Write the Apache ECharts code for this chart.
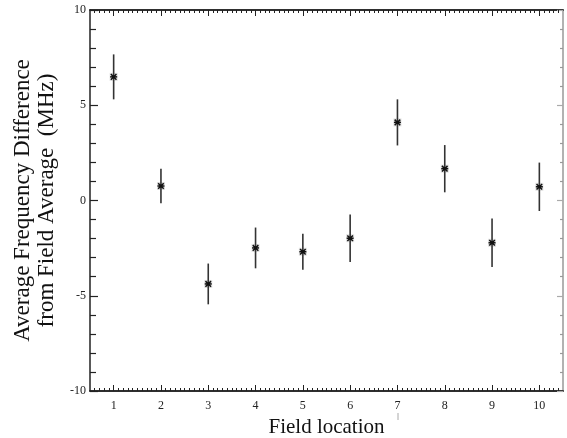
<!DOCTYPE html>
<html>
<head>
<meta charset="utf-8">
<script src="https://cdn.jsdelivr.net/npm/echarts@6/dist/echarts.min.js"></script>
<style>html,body{margin:0;padding:0;background:#fff;}#c{width:567px;height:438px;}</style>
</head>
<body>
<div id="c"></div>
<script>
var locations = [1, 2, 3, 4, 5, 6, 7, 8, 9, 10];
var meanDiff = [6.49, 0.76, -4.38, -2.49, -2.69, -1.98, 4.1, 1.67, -2.22, 0.72];
var errBar = [1.18, 0.91, 1.07, 1.07, 0.94, 1.25, 1.21, 1.24, 1.27, 1.27];
var xMajorTicks = [1, 2, 3, 4, 5, 6, 7, 8, 9, 10];

var xMinorTicks = [];
for (var i = 6; i <= 104; i++) { if (i % 10 !== 0) xMinorTicks.push(i / 10); }

var serif = 'Liberation Serif';
var data = locations.map(function (x, i) { return [x, meanDiff[i], errBar[i]]; });

var chart = echarts.init(document.getElementById('c'), null, {renderer: 'canvas'});

function xAxisDef(pos, ticks, len, showLabel, name) {
  return {
    type: 'value', min: 0.5, max: 10.5, position: pos,
    axisLine: {show: true, onZero: false, lineStyle: {color: '#222', width: 1.5}},
    axisTick: {show: true, inside: true, length: len, customValues: ticks, lineStyle: {color: '#222', width: 1}},
    axisLabel: {show: showLabel, customValues: ticks, color: '#222', fontFamily: serif, fontSize: 12, margin: 9},
    splitLine: {show: false},
    name: name || '', nameLocation: 'middle', nameGap: 23,
    nameTextStyle: {fontFamily: serif, fontSize: 21, color: '#111'}
  };
}

var option = {
  backgroundColor: '#fff',
  animation: false,
  grid: {left: 90, right: 4, top: 10, bottom: 47, containLabel: false, outerBoundsMode: 'none'},
  xAxis: [
    xAxisDef('bottom', xMajorTicks, 6, true, 'Field location'),
    xAxisDef('bottom', xMinorTicks, 3, false),
    xAxisDef('top', xMajorTicks, 6, false),
    xAxisDef('top', xMinorTicks, 3, false)
  ],
  yAxis: [
    {
      type: 'value', min: -10, max: 10, interval: 5, position: 'left',
      axisLine: {show: true, onZero: false, lineStyle: {color: '#222', width: 1.5}},
      axisTick: {show: true, inside: true, length: 8, lineStyle: {color: '#222', width: 1.2}},
      minorTick: {show: true, splitNumber: 5, length: 6, lineStyle: {color: '#222', width: 1.2}},
      axisLabel: {color: '#222', fontFamily: serif, fontSize: 12, margin: 4},
      splitLine: {show: false},
      name: 'Average Frequency Difference\nfrom Field Average  (MHz)',
      nameLocation: 'middle', nameGap: 31, nameRotate: 90,
      nameTextStyle: {fontFamily: serif, fontSize: 23, color: '#111', lineHeight: 24}
    },
    {
      type: 'value', min: -10, max: 10, interval: 5, position: 'right',
      axisLine: {show: true, onZero: false, lineStyle: {color: '#999', width: 1.5}},
      axisTick: {show: true, inside: true, length: 6, lineStyle: {color: '#aaa', width: 1.2}},
      minorTick: {show: true, splitNumber: 5, length: 3, lineStyle: {color: '#999', width: 1.2}},
      axisLabel: {show: false},
      splitLine: {show: false}
    }
  ],
  graphic: [{
    type: 'line', shape: {x1: 398, y1: 413, x2: 398, y2: 420},
    style: {stroke: '#aaa', lineWidth: 1}
  }],
  series: [{
    type: 'custom',
    xAxisIndex: 0, yAxisIndex: 0,
    data: data,
    renderItem: function (params, api) {
      var x = api.value(0), y = api.value(1), e = api.value(2);
      var c = api.coord([x, y]);
      var hi = api.coord([x, y + e]);
      var lo = api.coord([x, y - e]);
      var s = 3.5, d = 2.8;
      var st = {stroke: '#111', lineWidth: 1.5};
      return {
        type: 'group',
        children: [
          {type: 'rect', shape: {x: c[0] - 4, y: c[1] - 4, width: 8, height: 8}, style: {fill: 'rgba(0,0,0,0.12)'}},
          {type: 'line', shape: {x1: hi[0], y1: hi[1], x2: lo[0], y2: lo[1]}, style: {stroke: '#333', lineWidth: 1.6}},
          {type: 'line', shape: {x1: c[0] - s, y1: c[1], x2: c[0] + s, y2: c[1]}, style: st},
          {type: 'line', shape: {x1: c[0] - d, y1: c[1] - d, x2: c[0] + d, y2: c[1] + d}, style: st},
          {type: 'line', shape: {x1: c[0] - d, y1: c[1] + d, x2: c[0] + d, y2: c[1] - d}, style: st},
          {type: 'rect', shape: {x: c[0] - 1.5, y: c[1] - 1.5, width: 3, height: 3}, style: {fill: '#111'}}
        ]
      };
    }
  }]
};
chart.setOption(option);
</script>
</body>
</html>
